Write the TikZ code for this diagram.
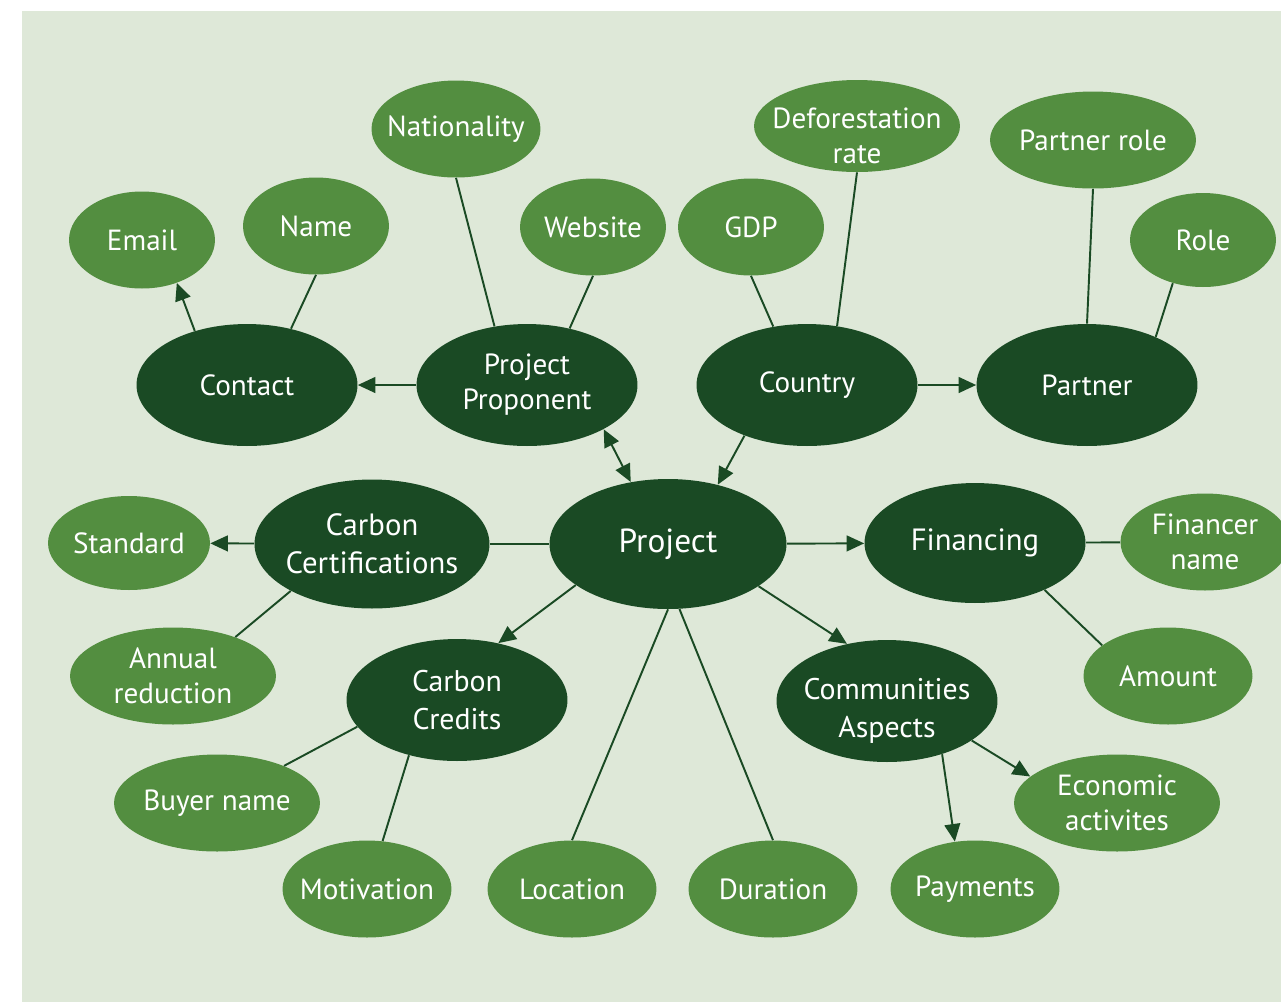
\documentclass[tikz,border=0pt]{standalone}
\usepackage{fontspec}
\setmainfont{PT Sans}
\usepackage{xcolor}
\usepackage{tikz}
\usetikzlibrary{arrows.meta, shapes.geometric}

\definecolor{verdescuro}{RGB}{26,74,36}
\definecolor{verdechiaro}{RGB}{83,142,64}
\definecolor{sfondo}{RGB}{222,232,216}

\tikzset{
    nodo/.style={ellipse, inner sep=-20pt, text=white, align=center,
        font=\fontsize{16.6}{20}\selectfont},
    entita/.style={nodo, fill=verdescuro, minimum width=4.42cm, minimum height=2.44cm},
    attr/.style={nodo, fill=verdechiaro, minimum width=2.92cm, minimum height=1.94cm},
    attrm/.style={attr, minimum width=3.38cm},
    attrl/.style={attr, minimum width=4.12cm},
    linea/.style={verdescuro, line width=1.1pt},
    freccia/.style={linea, -{Triangle[length=10pt, width=9pt]}},
    doppia/.style={linea, {Triangle[length=10pt, width=9pt]}-{Triangle[length=10pt, width=9pt]}}
}

\begin{document}
\begin{tikzpicture}[x=0.02cm, y=-0.02cm]
    \useasboundingbox (0,0) rectangle (1281,1002);
    % Sfondo
    \fill[sfondo] (22,11) rectangle (1281,1002);

    % Entita principali
    \node[entita, minimum width=4.74cm, minimum height=2.6cm,
        font=\fontsize{19}{22}\selectfont] (proj) at (668,544) {Project};
    \node[entita] (contact) at (247,385) {Contact};
    \node[entita] (prop) at (527,385) {Project\\Proponent};
    \node[entita] (country) at (807,385) {Country};
    \node[entita] (partner) at (1087,385) {Partner};
    \node[entita, minimum width=4.7cm, minimum height=2.58cm,
        font=\fontsize{17.5}{21.5}\selectfont] (cert) at (372,544) {Carbon\\Certifications};
    \node[entita, minimum height=2.4cm,
        font=\fontsize{17.5}{21.5}\selectfont] (fin) at (975,543) {Financing};
    \node[entita, font=\fontsize{17}{21.5}\selectfont] (credits) at (457,700) {Carbon\\Credits};
    \node[entita, text height=45pt,
        font=\fontsize{17}{21.5}\selectfont] (comm) at (887,701) {Communities\\Aspects};

    % Attributi
    \node[attr] (email) at (142,240) {Email};
    \node[attr] (name) at (316,226) {Name};
    \node[attrm] (nat) at (456,129) {Nationality};
    \node[attr] (web) at (593,227) {Website};
    \node[attr] (gdp) at (751,227) {GDP};
    \node[attrl, minimum height=1.84cm, text height=43pt] (defor) at (857,126) {Deforestation\\rate};
    \node[attrl] (prole) at (1093,140) {Partner role};
    \node[attr, minimum height=1.88cm] (role) at (1203,240) {Role};
    \node[attrm, minimum width=3.24cm, minimum height=1.88cm] (std) at (129,543) {Standard};
    \node[attrm] (fname) at (1205,542) {Financer\\name};
    \node[attrl] (annual) at (173,676) {Annual\\reduction};
    \node[attrm] (amount) at (1168,676) {Amount};
    \node[attrl] (buyer) at (217,803) {Buyer name};
    \node[attrl] (econ) at (1117,803) {Economic\\activites};
    \node[attrm] (motiv) at (367,889) {Motivation};
    \node[attrm] (loc) at (572,889) {Location};
    \node[attrm] (dur) at (773,889) {Duration};
    \node[attrm] (pay) at (975,889) {Payments};

    % Collegamenti in alto
    \draw[freccia] (contact.134) -- (email.-51);
    \draw[linea] (name.south) -- (contact.52);
    \draw[freccia] (prop) -- (contact);
    \draw[linea] (nat.south) -- (prop.119);
    \draw[linea] (web.south) -- (prop.53);
    \draw[doppia] (prop.-30) -- (proj.121);
    \draw[linea] (gdp.south) -- (country.120);
    \draw[linea] (defor.south) -- (country.63);
    \draw[freccia] (country) -- (partner);
    \draw[linea] (prole.south) -- (partner.north);
    \draw[linea] (role.-125) -- (partner.35);
    \draw[freccia] (country.-141) -- (proj.50);

    % Collegamenti al centro
    \draw[freccia] (cert) -- (std);
    \draw[linea] (cert) -- (proj);
    \draw[linea] (cert.-150) -- (annual.32);
    \draw[freccia] (proj) -- (fin);
    \draw[linea] (fin) -- (fname);
    \draw[linea] (fin.-34) -- (amount.155);

    % Collegamenti in basso
    \draw[freccia] (proj.-156) -- (credits.54);
    \draw[freccia] (proj.-25) -- (comm.125);
    \draw[linea] (proj.south) -- (loc.north);
    \draw[linea] (proj.-80) -- (dur.north);
    \draw[linea] (credits.-165) -- (buyer.29);
    \draw[linea] (credits.-131) -- (motiv.72);
    \draw[freccia] (comm.-25) -- (econ.163);
    \draw[freccia] (comm.-44) -- (pay.113);
\end{tikzpicture}
\end{document}
